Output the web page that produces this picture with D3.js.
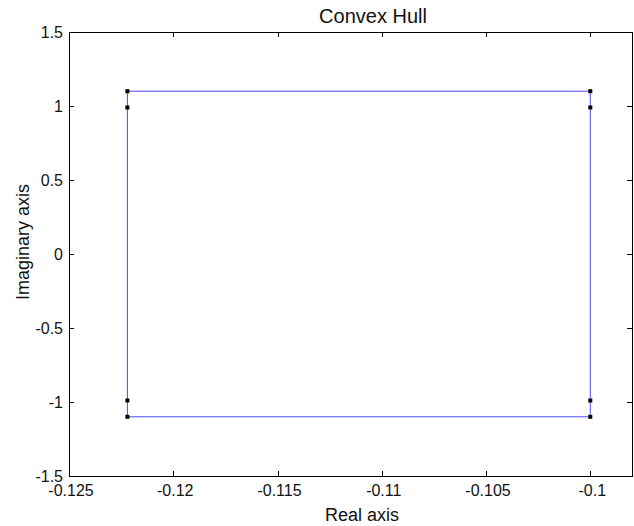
<!DOCTYPE html>
<html>
<head>
<meta charset="UTF-8">
<script src="https://cdn.jsdelivr.net/npm/d3@7"></script>
<style>
  body { margin: 0; background: #fff; }
  text { font-family: "Liberation Sans", Arial, sans-serif; fill: #111; }
</style>
</head>
<body>
<script>
    // points (real, imag)
    var realPts = [-0.1222, -0.1222, -0.1222, -0.1222, -0.1, -0.1, -0.1, -0.1];
    var imagPts = [1.1, 0.99, -0.99, -1.1, 1.1, 0.99, -0.99, -1.1];
    // hull vertices in order
    var hullReal = [-0.1222, -0.1, -0.1, -0.1222, -0.1222];
    var hullImag = [1.1, 1.1, -1.1, -1.1, 1.1];
    var xTicks = [-0.125, -0.12, -0.115, -0.11, -0.105, -0.1];
    var yTicks = [-1.5, -1, -0.5, 0, 0.5, 1, 1.5];

    var width = 634, height = 526;
    // plot box edges (window.top is read-only, so use other names)
    var mLeft = 69, mRight = 632, mTop = 32, mBottom = 476;

    var svg = d3.select("body").append("svg").attr("width", width).attr("height", height);

    var x = d3.scaleLinear().domain([-0.125, -0.098]).range([mLeft, mRight]);
    var y = d3.scaleLinear().domain([-1.5, 1.5]).range([mBottom, mTop]);

    // box
    svg.append("rect")
        .attr("x", mLeft + 0.5).attr("y", mTop + 0.5)
        .attr("width", mRight - mLeft).attr("height", mBottom - mTop)
        .attr("fill", "none").attr("stroke", "#000").attr("stroke-width", 1);

    // inward ticks on all sides
    var tl = 5;
    xTicks.forEach(function(t) {
        var px = Math.round(x(t)) + 0.5;
        svg.append("line").attr("x1", px).attr("x2", px).attr("y1", mBottom).attr("y2", mBottom - tl).attr("stroke", "#000");
        svg.append("line").attr("x1", px).attr("x2", px).attr("y1", mTop).attr("y2", mTop + tl).attr("stroke", "#000");
        svg.append("text").attr("x", x(t) + 2).attr("y", 496)
            .attr("text-anchor", "middle").attr("font-size", 16).text(String(t));
    });
    yTicks.forEach(function(t) {
        var py = Math.round(y(t)) + 0.5;
        svg.append("line").attr("x1", mLeft).attr("x2", mLeft + tl).attr("y1", py).attr("y2", py).attr("stroke", "#000");
        svg.append("line").attr("x1", mRight).attr("x2", mRight - tl).attr("y1", py).attr("y2", py).attr("stroke", "#000");
        svg.append("text").attr("x", mLeft - 6).attr("y", y(t) + 5.7)
            .attr("text-anchor", "end").attr("font-size", 16).text(String(t));
    });

    // hull
    var line = d3.line()
        .x(function(d, i) { return x(hullReal[i]); })
        .y(function(d, i) { return y(hullImag[i]); });
    svg.append("path")
        .attr("d", line(hullReal))
        .attr("fill", "none")
        .attr("stroke", "#4a4af5")
        .attr("stroke-width", 1);

    // points
    svg.selectAll("rect.pt")
        .data(realPts)
        .enter()
        .append("rect")
        .attr("class", "pt")
        .attr("x", function(d) { return x(d) - 2; })
        .attr("y", function(d, i) { return y(imagPts[i]) - 2; })
        .attr("width", 4).attr("height", 4)
        .attr("fill", "#000");

    // labels
    svg.append("text").attr("x", 373).attr("y", 23)
        .attr("text-anchor", "middle").attr("font-size", 20).text("Convex Hull");
    svg.append("text").attr("x", 362).attr("y", 521)
        .attr("text-anchor", "middle").attr("font-size", 18).text("Real axis");
    svg.append("text")
        .attr("transform", "translate(29,242) rotate(-90)")
        .attr("text-anchor", "middle").attr("font-size", 18).text("Imaginary axis");
</script>
</body>
</html>
